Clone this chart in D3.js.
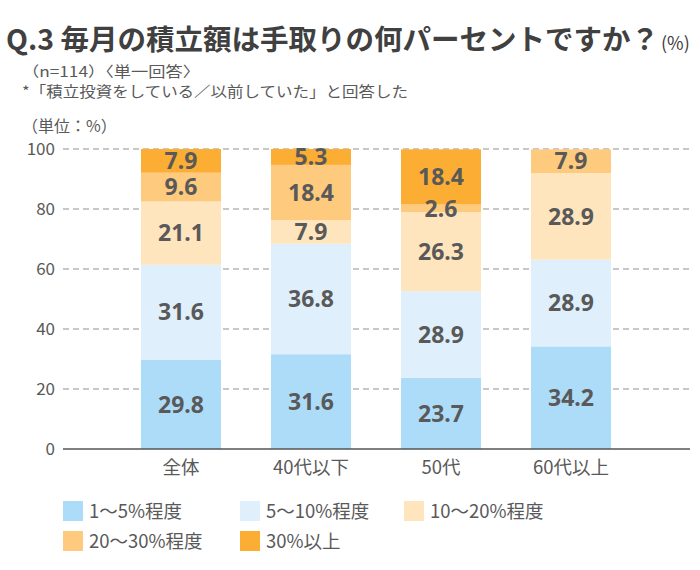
<!DOCTYPE html>
<html><head><meta charset="utf-8">
<script src="https://cdn.jsdelivr.net/npm/d3@7"></script>
<style>
body{margin:0;background:#fff;}
svg{display:block;font-family:"Noto Sans CJK JP","Noto Sans",sans-serif;}
</style></head>
<body><svg id="chart" width="700" height="570"></svg>
<script>
const categories = ["全体", "40代以下", "50代", "60代以上"];
const seriesNames = ["1～5%程度", "5～10%程度", "10～20%程度", "20～30%程度", "30%以上"];
const s1to5   = [29.8, 31.6, 23.7, 34.2];
const s5to10  = [31.6, 36.8, 28.9, 28.9];
const s10to20 = [21.1, 7.9, 26.3, 28.9];
const s20to30 = [9.6, 18.4, 2.6, 7.9];
const s30up   = [7.9, 5.3, 18.4, 0];
const yTicks = [0, 20, 40, 60, 80, 100];
const colors = ["#ADDCF9", "#DFF0FC", "#FEE5BE", "#FDCA7E", "#FBAD34"];

const seriesValues = [s1to5, s5to10, s10to20, s20to30, s30up];
const rows = categories.map((c, i) => {
  const r = {cat: c};
  seriesNames.forEach((s, k) => r[s] = seriesValues[k][i]);
  return r;
});

const svg = d3.select("#chart");
const textCol = "#595959";

// Title
const title = svg.append("text").attr("x", 6).attr("y", 50)
  .attr("fill", "#404040").attr("font-weight", "bold").attr("font-size", 28.5);
title.append("tspan").text("Q.3 毎月の積立額は手取りの何パーセントですか？");
title.append("tspan").attr("font-size", 18).attr("font-weight", "normal").attr("dx", 2).text("(%)");

svg.append("text").attr("x", 22).attr("y", 77).attr("font-size", 14.5).attr("fill", textCol)
  .attr("textLength", 178).attr("lengthAdjust", "spacingAndGlyphs")
  .text("（n=114）〈単一回答〉");
svg.append("text").attr("x", 22).attr("y", 97).attr("font-size", 14.5).attr("fill", textCol)
  .attr("textLength", 386).attr("lengthAdjust", "spacingAndGlyphs")
  .text("*「積立投資をしている／以前していた」と回答した");
svg.append("text").attr("x", 22).attr("y", 132).attr("font-size", 16).attr("fill", textCol)
  .text("（単位：%）");

const x = d3.scaleBand().domain(categories).range([116, 636])
  .paddingInner(50/130).paddingOuter(25/130);
const y = d3.scaleLinear().domain([0, 100]).range([449, 149]);

// gridlines
svg.append("g").selectAll("line").data(yTicks.filter(t => t > 0)).join("line")
  .attr("x1", 63).attr("x2", 690)
  .attr("y1", d => y(d)).attr("y2", d => y(d))
  .attr("stroke", "#c8c8c8").attr("stroke-width", 2).attr("stroke-dasharray", "6,4");

// y axis labels
const yAxis = d3.axisLeft(y).tickValues(yTicks).tickSize(0).tickPadding(0);
const ya = svg.append("g").attr("transform", "translate(55,0)").call(yAxis);
ya.select(".domain").remove();
ya.selectAll("text").attr("font-size", 17).attr("fill", textCol)
  .attr("font-family", "'Noto Sans CJK JP','Noto Sans',sans-serif");

// stacks
const stack = d3.stack().keys(seriesNames);
const stacked = stack(rows);

const layers = svg.append("g").selectAll("g").data(stacked).join("g")
  .attr("fill", (d, i) => colors[i]);
layers.selectAll("rect").data(d => d).join("rect")
  .attr("x", d => x(d.data.cat))
  .attr("width", x.bandwidth())
  .attr("y", d => y(Math.min(d[1], 100)))
  .attr("height", d => Math.max(0, y(d[0]) - y(Math.min(d[1], 100))));

// labels
const labelG = svg.append("g");
stacked.forEach(layer => {
  layer.forEach(d => {
    const v = d[1] - d[0];
    if (v <= 0.001) return;
    labelG.append("text")
      .attr("x", x(d.data.cat) + x.bandwidth() / 2)
      .attr("y", y((d[0] + Math.min(d[1], 100)) / 2))
      .attr("dy", "0.36em")
      .attr("text-anchor", "middle")
      .attr("font-size", 23).attr("font-weight", "bold")
      .attr("font-family", "'Noto Sans','Noto Sans CJK JP',sans-serif")
      .attr("fill", "#595959")
      .text(d3.format(".1f")(v));
  });
});

// x axis baseline
svg.append("line").attr("x1", 63).attr("x2", 690).attr("y1", y(0)).attr("y2", y(0))
  .attr("stroke", "#555").attr("stroke-width", 1.5);

const xAxis = d3.axisBottom(x).tickSize(0).tickPadding(0);
const xa = svg.append("g").attr("transform", `translate(0,${y(0)})`).call(xAxis);
xa.select(".domain").remove();
xa.selectAll("text").attr("font-size", 18.5).attr("fill", textCol).attr("dy", "1.35em")
  .attr("font-family", "'Noto Sans CJK JP',sans-serif");

// legend
const legendPos = [[63, 501], [240, 501], [404, 501], [63, 531], [240, 531]];
const lg = svg.append("g");
seriesNames.forEach((s, i) => {
  const [lx, ly] = legendPos[i];
  lg.append("rect").attr("x", lx).attr("y", ly).attr("width", 20).attr("height", 20).attr("fill", colors[i]);
  lg.append("text").attr("x", lx + 26).attr("y", ly + 10).attr("dy", "0.36em")
    .attr("font-size", 18.5).attr("fill", textCol).text(s);
});
</script></body></html>
